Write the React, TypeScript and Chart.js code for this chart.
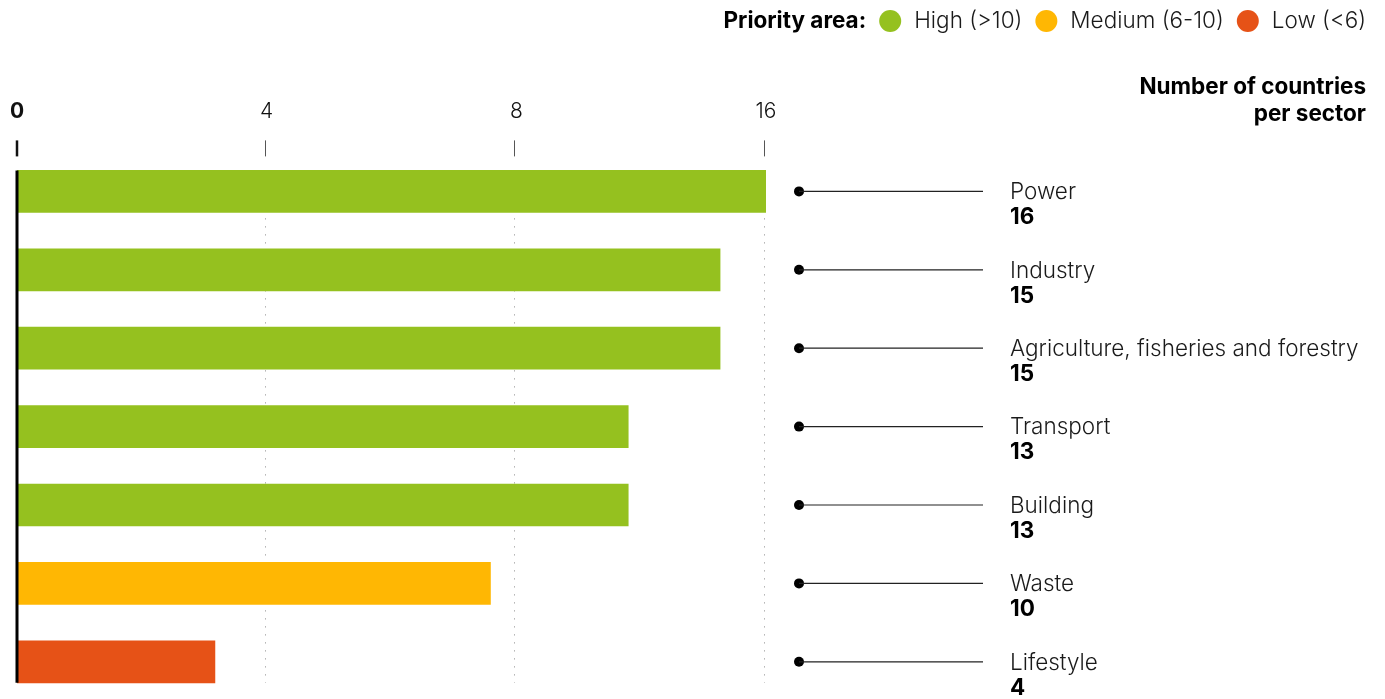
import React, { useEffect, useRef } from "react";
import { Chart, registerables } from "chart.js";

Chart.register(...registerables);

const SECTORS = [
  "Power",
  "Industry",
  "Agriculture, fisheries and forestry",
  "Transport",
  "Building",
  "Waste",
  "Lifestyle",
];
const COUNTRIES = [16, 15, 15, 13, 13, 10, 4];
const TICK_LABELS = ["0", "4", "8", "16"];
const PRIORITY_NAMES = ["High (>10)", "Medium (6-10)", "Low (<6)"];
const PRIORITY_COLORS = ["#95C11F", "#FFB703", "#E65217"];
const LEGEND_TITLE = "Priority area:";
const AXIS_TITLE = ["Number of countries", "per sector"];
const X_MIN = -0.31;
const X_MAX = 16;

const FAMILY = "Inter, 'Open Sans', sans-serif";
const FS = 22.5;
const TICK_FS = 21;

function priorityColor(v: number) {
  if (v > 10) return PRIORITY_COLORS[0];
  if (v >= 6) return PRIORITY_COLORS[1];
  return PRIORITY_COLORS[2];
}

const overlay = {
  id: "overlay",
  beforeDatasetsDraw(chart: any) {
    const ctx = chart.ctx;
    const xs = chart.scales.x;
    const bars = chart.getDatasetMeta(0).data;
    const first = bars[0];
    const last = bars[bars.length - 1];
    const top = first.y - first.height / 2;
    const bottom = last.y + last.height / 2;
    ctx.save();
    xs.ticks.forEach((t: any, i: number) => {
      const px = Math.round(xs.getPixelForValue(t.value)) - 1.5;
      if (i > 0) {
        ctx.strokeStyle = "#8a8a8a";
        ctx.lineWidth = 1;
        ctx.setLineDash([1, 7]);
        ctx.beginPath();
        ctx.moveTo(px, top);
        ctx.lineTo(px, bottom);
        ctx.stroke();
      }
      ctx.setLineDash([]);
      ctx.strokeStyle = i === 0 ? "#111" : "#555";
      ctx.lineWidth = i === 0 ? 2.5 : 1;
      const tx = i === 0 ? xs.left : px;
      ctx.beginPath();
      ctx.moveTo(tx, top - 30);
      ctx.lineTo(tx, top - 14);
      ctx.stroke();
    });
    ctx.restore();
  },
  afterDatasetsDraw(chart: any) {
    const ctx = chart.ctx;
    const xs = chart.scales.x;
    const bars = chart.getDatasetMeta(0).data;
    const first = bars[0];
    const last = bars[bars.length - 1];
    const top = first.y - first.height / 2;
    const bottom = last.y + last.height / 2;
    ctx.save();
    ctx.strokeStyle = "#000";
    ctx.lineWidth = 3;
    ctx.beginPath();
    ctx.moveTo(xs.left, top);
    ctx.lineTo(xs.left, bottom);
    ctx.stroke();

    const right = chart.chartArea.right;
    const dotX = right + 33;
    const lineEnd = dotX + 184;
    const textX = dotX + 211;
    bars.forEach((el: any, i: number) => {
      const y = el.y;
      ctx.fillStyle = "#000";
      ctx.beginPath();
      ctx.arc(dotX, y, 5, 0, Math.PI * 2);
      ctx.fill();
      ctx.strokeStyle = "#222";
      ctx.lineWidth = 1.2;
      ctx.beginPath();
      ctx.moveTo(dotX, y);
      ctx.lineTo(lineEnd, y);
      ctx.stroke();
      ctx.textAlign = "left";
      ctx.textBaseline = "middle";
      ctx.fillStyle = "#1a1a1a";
      ctx.font = `300 ${FS}px ${FAMILY}`;
      ctx.fillText(SECTORS[i], textX, y + 1);
      ctx.fillStyle = "#000";
      ctx.font = `bold ${FS}px ${FAMILY}`;
      ctx.fillText(String(COUNTRIES[i]), textX, y + 26);
    });

    const rightEdge = chart.width - 19;
    ctx.textAlign = "right";
    ctx.textBaseline = "middle";
    ctx.fillStyle = "#000";
    ctx.font = `bold ${FS}px ${FAMILY}`;
    ctx.fillText(AXIS_TITLE[0], rightEdge, 87);
    ctx.fillText(AXIS_TITLE[1], rightEdge, 114);

    const r = 11;
    const gap = 13;
    ctx.font = `bold ${FS}px ${FAMILY}`;
    const titleW = ctx.measureText(LEGEND_TITLE).width;
    ctx.font = `300 ${FS}px ${FAMILY}`;
    const widths = PRIORITY_NAMES.map((n) => ctx.measureText(n).width);
    let total = titleW;
    widths.forEach((w) => {
      total += gap + 2 * r + gap + w;
    });
    let x = rightEdge - total;
    const ly = 21;
    ctx.textAlign = "left";
    ctx.font = `bold ${FS}px ${FAMILY}`;
    ctx.fillStyle = "#000";
    ctx.fillText(LEGEND_TITLE, x, ly);
    x += titleW;
    PRIORITY_NAMES.forEach((n, i) => {
      x += gap + r;
      ctx.fillStyle = PRIORITY_COLORS[i];
      ctx.beginPath();
      ctx.arc(x, ly, r, 0, Math.PI * 2);
      ctx.fill();
      x += r + gap;
      ctx.fillStyle = "#1a1a1a";
      ctx.font = `300 ${FS}px ${FAMILY}`;
      ctx.fillText(n, x, ly);
      x += widths[i];
    });
    ctx.restore();
  },
};

export default function App() {
  const ref = useRef<HTMLCanvasElement | null>(null);
  useEffect(() => {
    document.body.style.margin = "0";
    if (!ref.current) return;
    const chart = new Chart(ref.current, {
      type: "bar",
      data: {
        labels: SECTORS,
        datasets: [
          {
            data: COUNTRIES,
            backgroundColor: COUNTRIES.map(priorityColor),
            borderWidth: 0,
            barThickness: 42,
            base: X_MIN,
          } as any,
        ],
      },
      options: {
        indexAxis: "y",
        responsive: false,
        animation: false,
        devicePixelRatio: 1,
        layout: { padding: { top: 71, left: 17, right: 619, bottom: 19 } },
        plugins: {
          legend: { display: false },
          tooltip: { enabled: false },
        },
        scales: {
          x: {
            type: "linear",
            position: "top",
            min: X_MIN,
            max: X_MAX,
            grid: { display: false, drawTicks: false, tickLength: 0 },
            border: { display: false },
            afterBuildTicks: (scale: any) => {
              scale.ticks = TICK_LABELS.map((_, i) => ({
                value: X_MIN + ((X_MAX - X_MIN) * i) / (TICK_LABELS.length - 1),
              }));
            },
            afterFit: (scale: any) => {
              scale.paddingLeft = 0;
              scale.paddingRight = 0;
            },
            ticks: {
              autoSkip: false,
              maxRotation: 0,
              padding: 28,
              color: "#111",
              callback: (_v: any, i: number) => TICK_LABELS[i],
              font: (c: any) => ({
                family: FAMILY,
                size: TICK_FS,
                weight: c.index === 0 ? "bold" : "300",
              }),
            },
          },
          y: {
            type: "category",
            display: false,
            offset: true,
          },
        },
      },
      plugins: [overlay],
    } as any);
    return () => chart.destroy();
  }, []);
  return (
    <div style={{ width: 1385, height: 699, overflow: "hidden", position: "relative" }}>
      <canvas ref={ref} width={1385} height={720} style={{ display: "block" }} />
    </div>
  );
}
